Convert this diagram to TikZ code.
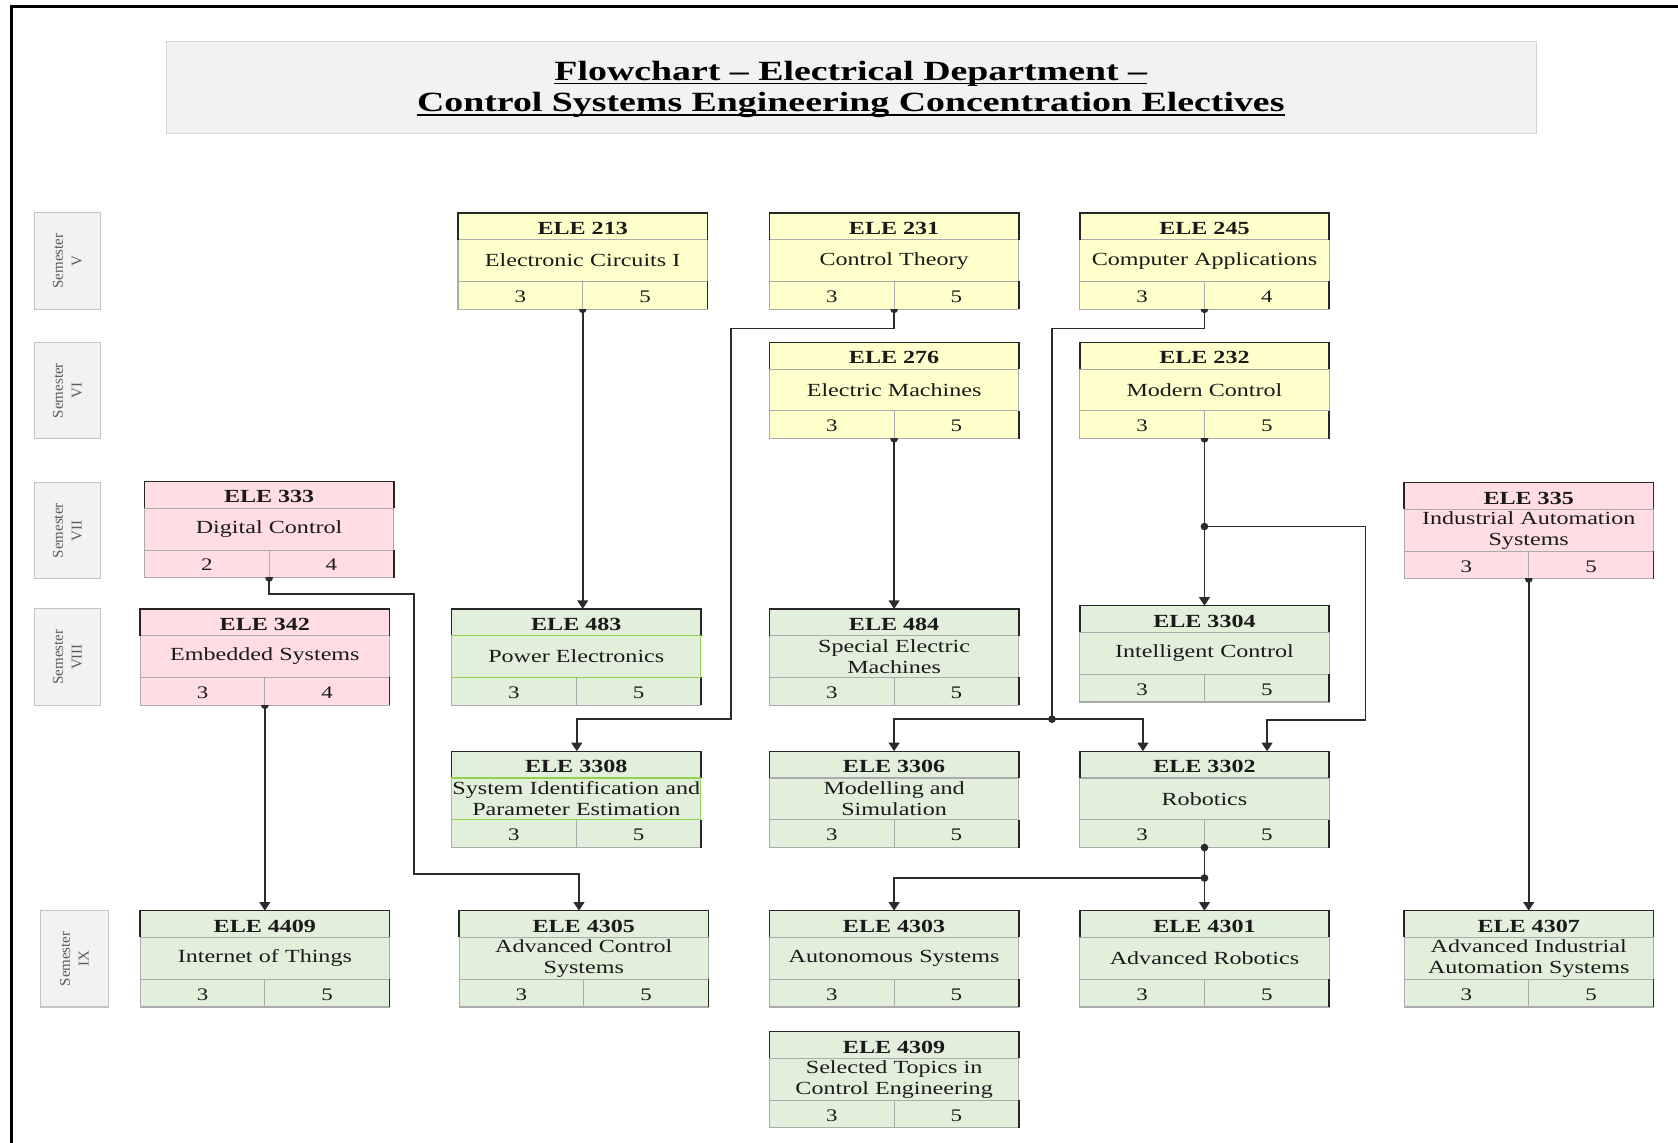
\documentclass[tikz,border=0pt]{standalone}
\usepackage{fontspec}
\setmainfont{Liberation Serif}[FakeStretch=1.3]
\newfontfamily\titlefont{Liberation Serif}[FakeStretch=1.36]
\newfontfamily\semfont{Liberation Serif}
\usetikzlibrary{arrows.meta,fit}
\definecolor{ylw}{HTML}{FFFFCC}
\definecolor{pnk}{HTML}{FFDDE3}
\definecolor{grn}{HTML}{E2EFDA}
\definecolor{cellgray}{HTML}{ABABAB}
\definecolor{darkedge}{HTML}{262626}
\definecolor{connc}{HTML}{2B2B2B}
\definecolor{boxgray}{HTML}{F2F2F2}
\definecolor{titleedge}{HTML}{D4D4D4}
\definecolor{semedge}{HTML}{C4C4C4}
\definecolor{semtext}{HTML}{5A5A5A}
\definecolor{txt}{HTML}{1A1A1A}
\definecolor{midgreen}{HTML}{92D050}
\tikzset{
  cell/.style={draw=cellgray, line width=1pt, inner sep=0pt, outer sep=0pt, text=txt},
  hdr/.style={cell, minimum width=233pt, minimum height=25pt, text height=15pt, text depth=0pt, font=\bfseries\fontsize{17.3}{19.6}\selectfont},
  mid/.style={cell, text width=233pt, minimum height=39pt, align=center, font=\fontsize{17.3}{19.6}\selectfont},
  num/.style={cell, minimum width=116.5pt, minimum height=26pt, text height=13pt, text depth=0pt, font=\fontsize{16.5}{19}\selectfont},
  dk/.style={draw=darkedge, line width=1.4pt},
  conn/.style={draw=connc, line width=1.7pt},
  arr/.style={conn, -{Triangle[length=8pt,width=10pt]}},
  sem/.style={draw=semedge, fill=boxgray, line width=1pt, rotate=90, minimum width=90pt, minimum height=62pt, inner sep=0pt, align=center, text=semtext, font=\semfont\fontsize{14}{17.5}\selectfont},
  ttl/.style={inner sep=0pt, anchor=base, font=\titlefont\bfseries\fontsize{26}{31}\selectfont},
}
\newcommand\mkcourse[8]{%
  \node[hdr, fill=#4, anchor=north west] (#1-h) at (#2,#3) {#5};
  \node[mid, fill=#4, anchor=north west] (#1-m) at (#1-h.south west) {#6};
  \node[num, fill=#4, anchor=north west] (#1-a) at (#1-m.south west) {#7};
  \node[num, fill=#4, anchor=north west] (#1-b) at (#1-a.north east) {#8};
  \draw[dk] (#1-h.south west) |- (#1-h.north east) -- (#1-h.south east);
  \draw[dk] (#1-b.north east) -- (#1-b.south east);
  \node[fit=(#1-h)(#1-a)(#1-b), inner sep=0pt, outer sep=0pt] (#1) {};
}
\newcommand\srcdot[1]{%
  \begin{scope}
    \clip ([xshift=-5pt]#1.south) rectangle ([xshift=5pt,yshift=-5pt]#1.south);
    \fill[connc] (#1.south) circle (3.6pt);
  \end{scope}}
\begin{document}
\begin{tikzpicture}[x=1pt,y=-1pt]
\useasboundingbox (0,0) rectangle (1568,1068);
% frame
\draw[line width=3pt, black] (11,1068) -- (11,6) -- (1568,6);
% title
\node[draw=titleedge, fill=boxgray, line width=1pt, minimum width=1280pt, minimum height=86pt, inner sep=0pt, anchor=north west] (title) at (155,38) {};
\node[ttl] (t1) at (795,75) {Flowchart – Electrical Department –};
\node[ttl] (t2) at (795,104.5) {Control Systems Engineering Concentration Electives};
\draw[line width=1.5pt] ([yshift=-3pt]t1.base west) -- ([yshift=-3pt]t1.base east);
\draw[line width=1.5pt] ([yshift=-3pt]t2.base west) -- ([yshift=-3pt]t2.base east);
% semesters
\node[sem] (sV) at (63,244) {Semester\\V};
\node[sem] (sVI) at (63,365) {Semester\\VI};
\node[sem] (sVII) at (63,496) {Semester\\VII};
\node[sem] (sVIII) at (63,614) {Semester\\VIII};
\node[sem, minimum height=63pt] (sIX) at (69.5,896) {Semester\\IX};
% courses
\mkcourse{e213}{428}{199}{ylw}{ELE 213}{Electronic Circuits I}{3}{5}
\mkcourse{e231}{719}{199}{ylw}{ELE 231}{Control Theory}{3}{5}
\mkcourse{e245}{1009}{199}{ylw}{ELE 245}{Computer Applications}{3}{4}
\mkcourse{e276}{719}{320}{ylw}{ELE 276}{Electric Machines}{3}{5}
\mkcourse{e232}{1009}{320}{ylw}{ELE 232}{Modern Control}{3}{5}
\mkcourse{e333}{135}{450}{pnk}{ELE 333}{Digital Control}{2}{4}
\mkcourse{e335}{1312}{451}{pnk}{ELE 335}{Industrial Automation\\Systems}{3}{5}
\mkcourse{e342}{131}{569}{pnk}{ELE 342}{Embedded Systems}{3}{4}
\mkcourse{e483}{422}{569}{grn}{ELE 483}{Power Electronics}{3}{5}
\mkcourse{e484}{719}{569}{grn}{ELE 484}{Special Electric\\Machines}{3}{5}
\mkcourse{e3304}{1009}{566}{grn}{ELE 3304}{Intelligent Control}{3}{5}
\mkcourse{e3308}{422}{702}{grn}{ELE 3308}{System Identification and\\Parameter Estimation}{3}{5}
\mkcourse{e3306}{719}{702}{grn}{ELE 3306}{Modelling and\\Simulation}{3}{5}
\mkcourse{e3302}{1009}{702}{grn}{ELE 3302}{Robotics}{3}{5}
\mkcourse{e4409}{131}{851}{grn}{ELE 4409}{Internet of Things}{3}{5}
\mkcourse{e4305}{429}{851}{grn}{ELE 4305}{Advanced Control\\Systems}{3}{5}
\mkcourse{e4303}{719}{851}{grn}{ELE 4303}{Autonomous Systems}{3}{5}
\mkcourse{e4301}{1009}{851}{grn}{ELE 4301}{Advanced Robotics}{3}{5}
\mkcourse{e4307}{1312}{851}{grn}{ELE 4307}{Advanced Industrial\\Automation Systems}{3}{5}
\mkcourse{e4309}{719}{964}{grn}{ELE 4309}{Selected Topics in\\Control Engineering}{3}{5}
\draw[draw=midgreen, line width=1pt] (e483-m.north west) rectangle (e483-m.south east);
\draw[draw=midgreen, line width=1pt] (e3308-m.north west) rectangle (e3308-m.south east);
% connectors
\coordinate (k231a) at (683,307);
\coordinate (k231b) at (539,672);
\coordinate (k245a) at (983,307);
\coordinate (j1) at (983,672);
\coordinate (j2) at (1125.5,492);
\coordinate (k232a) at (1276,492);
\coordinate (k232b) at (1276,673);
\coordinate (k333a) at (387,555);
\coordinate (k333b) at (541,817);
\coordinate (j3) at (1125.5,820.5);
\draw[arr] (e213.south) -- (e213.south |- e483.north);
\draw[arr] (e231.south) |- (k231a) |- (k231b) -- (k231b |- e3308.north);
\draw[arr] (e276.south) -- (e484.north);
\draw[conn] (e245.south) |- (k245a) -- (j1);
\draw[arr] (j1) -| (e3306.north);
\draw[arr] (j1) -| ([xshift=-57.5pt]e3302.north);
\draw[arr] (e232.south) -- (e3304.north);
\draw[arr] (j2) -- (k232a) -- (k232b) -| ([xshift=58.5pt]e3302.north);
\draw[arr] (e333.south) |- (k333a) |- (k333b) -- (k333b |- e4305.north);
\draw[arr] (e342.south) -- (e4409.north);
\draw[arr] (e335.south) -- (e4307.north);
\draw[arr] (e3302.south) -- (e4301.north);
\draw[arr] (j3) -| (e4303.north);
% dots
\foreach \n in {e213,e231,e245,e276,e232,e333,e342,e335} {\srcdot{\n}}
\fill[connc] (j1) circle (3.6pt);
\fill[connc] (j2) circle (3.6pt);
\fill[connc] (j3) circle (3.6pt);
\fill[connc] (e3302.south) circle (3.6pt);
\end{tikzpicture}
\end{document}
